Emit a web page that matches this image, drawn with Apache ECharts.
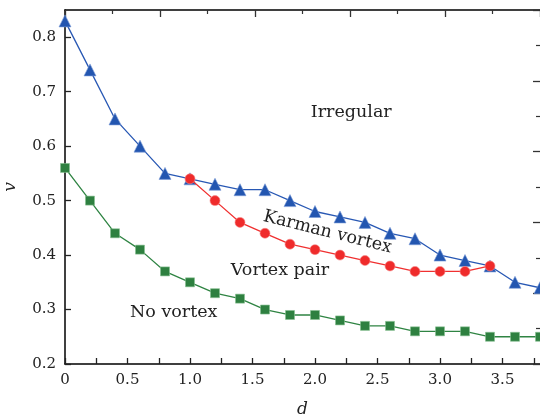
<!DOCTYPE html>
<html>
<head>
<meta charset="utf-8">
<script src="https://cdn.jsdelivr.net/npm/echarts@6/dist/echarts.min.js"></script>
<style>
  html, body { margin: 0; padding: 0; background: #fff; }
  #main { width: 540px; height: 419px; }
</style>
</head>
<body>
<div id="main"></div>
<script>
// d values
var dAll = [0, 0.2, 0.4, 0.6, 0.8, 1.0, 1.2, 1.4, 1.6, 1.8, 2.0, 2.2, 2.4, 2.6, 2.8, 3.0, 3.2, 3.4, 3.6, 3.8];
var dPair = [1.0, 1.2, 1.4, 1.6, 1.8, 2.0, 2.2, 2.4, 2.6, 2.8, 3.0, 3.2, 3.4];
// boundaries
var vIrregular = [0.83, 0.74, 0.65, 0.60, 0.55, 0.54, 0.53, 0.52, 0.52, 0.50, 0.48, 0.47, 0.46, 0.44, 0.43, 0.40, 0.39, 0.38, 0.35, 0.34];
var vKarman = [0.54, 0.50, 0.46, 0.44, 0.42, 0.41, 0.40, 0.39, 0.38, 0.37, 0.37, 0.37, 0.38];
var vNoVortex = [0.56, 0.50, 0.44, 0.41, 0.37, 0.35, 0.33, 0.32, 0.30, 0.29, 0.29, 0.28, 0.27, 0.27, 0.26, 0.26, 0.26, 0.25, 0.25, 0.25];
// region labels [text, d, v, rotation(deg)]
var regionLabels = [
  ['Irregular', 2.29, 0.662, 0],
  ['Karman vortex', 2.10, 0.442, -14],
  ['Vortex pair', 1.72, 0.372, 0],
  ['No vortex', 0.87, 0.294, 0]
];

var FONT = 'DejaVu Serif';

function pairs(xs, ys) {
  return xs.map(function (x, i) { return [x, ys[i]]; });
}

var chart = echarts.init(document.getElementById('main'), null, { renderer: 'canvas' });

var axisLine = { show: true, onZero: false, lineStyle: { color: '#000', width: 1.5 } };

var option = {
  backgroundColor: '#fff',
  animation: false,
  grid: { left: 65, right: 0, top: 10, bottom: 55, outerBoundsMode: 'none', containLabel: false },
  xAxis: [{
    type: 'value',
    min: 0, max: 3.8, interval: 0.25,
    name: 'd', nameLocation: 'middle', nameGap: 37,
    nameTextStyle: { fontFamily: FONT, fontStyle: 'italic', fontSize: 17, color: '#222' },
    axisLine: axisLine,
    axisTick: { inside: true, length: 6, lineStyle: { color: '#222', width: 1.3 } },
    axisLabel: {
      fontFamily: FONT, fontSize: 15, color: '#222', margin: 9,
      formatter: function (v) {
        if (Math.abs(v * 2 - Math.round(v * 2)) > 1e-6) return '';
        return v === 0 ? '0' : v.toFixed(1);
      },
      showMaxLabel: false
    },
    splitLine: { show: false }
  }, {
    type: 'value', position: 'top',
    min: 0, max: 5, interval: 1,
    axisLine: axisLine,
    axisTick: { inside: true, length: 7, lineStyle: { color: '#333', width: 1.3 } },
    minorTick: { show: true, splitNumber: 2, length: 4, lineStyle: { color: '#333', width: 1.2 } },
    axisLabel: { show: false },
    splitLine: { show: false }
  }],
  yAxis: [{
    type: 'value',
    min: 0.2, max: 0.85, interval: 0.1,
    name: 'v', nameLocation: 'middle', nameGap: 46,
    nameTextStyle: { fontFamily: FONT, fontStyle: 'italic', fontSize: 17, color: '#222' },
    axisLine: axisLine,
    axisTick: { inside: true, length: 6, lineStyle: { color: '#222', width: 1.3 } },
    axisLabel: { fontFamily: FONT, fontSize: 15, color: '#222', margin: 9, showMaxLabel: false,
      formatter: function (v) { return v.toFixed(1); } },
    splitLine: { show: false }
  }, {
    type: 'value', position: 'right',
    min: 0, max: 10, interval: 2,
    axisLine: { show: false, onZero: false },
    axisTick: { show: true, inside: true, length: 7, lineStyle: { color: '#333', width: 1.3 } },
    minorTick: { show: true, splitNumber: 2, length: 4, lineStyle: { color: '#333', width: 1.2 } },
    axisLabel: { show: false },
    splitLine: { show: false }
  }],
  series: [{
    name: 'Irregular',
    type: 'line',
    data: pairs(dAll, vIrregular),
    symbol: 'triangle', symbolSize: 12,
    lineStyle: { color: '#2858b4', width: 1.3 },
    itemStyle: { color: '#2356b0', borderColor: '#7b9bd6', borderWidth: 0.6 },
    z: 3
  }, {
    name: 'Karman vortex',
    type: 'line',
    data: pairs(dPair, vKarman),
    symbol: 'circle', symbolSize: 10,
    lineStyle: { color: '#f03030', width: 1.3 },
    itemStyle: { color: '#ef2b2b', borderColor: '#f78a8a', borderWidth: 0.6 },
    z: 4
  }, {
    name: 'No vortex',
    type: 'line',
    data: pairs(dAll, vNoVortex),
    symbol: 'rect', symbolSize: 9,
    lineStyle: { color: '#2f8443', width: 1.3 },
    itemStyle: { color: '#2e8040', borderColor: '#86c091', borderWidth: 0.6 },
    z: 3
  }]
};

chart.setOption(option);

// region annotations placed by data coordinates
var texts = regionLabels.map(function (r) {
  var p = chart.convertToPixel({ gridIndex: 0 }, [r[1], r[2]]);
  return {
    type: 'text',
    x: p[0], y: p[1],
    rotation: r[3] * Math.PI / 180,
    style: {
      text: r[0],
      fontFamily: FONT, fontSize: 17.5, fill: '#222',
      align: 'center', verticalAlign: 'middle'
    },
    z: 10
  };
});
chart.setOption({ graphic: texts });
</script>
</body>
</html>
